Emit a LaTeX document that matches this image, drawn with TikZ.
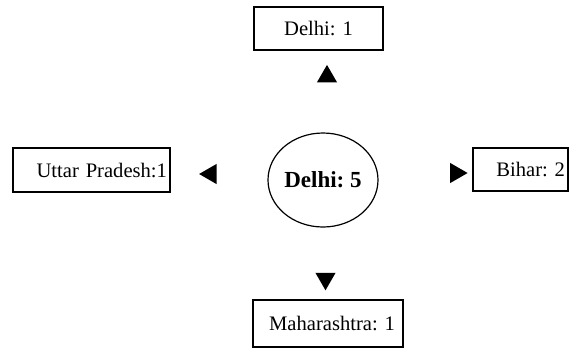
\documentclass[tikz,border=0pt]{standalone}
\usepackage{fontspec}
\setmainfont{Liberation Serif}
\usepackage{tikz}
\usetikzlibrary{shapes.geometric}
\frenchspacing

\tikzset{
	box/.style={draw,line width=0.6pt,inner xsep=1.5pt,inner ysep=0pt,
		font=\fontsize{10.3}{12}\selectfont},
	tip/.style={regular polygon,regular polygon sides=3,fill=black,
		inner sep=0pt,minimum size=11.6pt}
}

\begin{document}
\begin{tikzpicture}[x=0.5pt,y=-0.5pt]
	\useasboundingbox (0,0) rectangle (569,350);
	% state in the middle
	\node[ellipse,draw,line width=0.6pt,minimum width=55pt,minimum height=47pt,
		inner sep=0pt,font=\fontsize{11.5}{13}\bfseries] (D5) at (323,180) {Delhi: 5};
	% the four boxes
	\node[box,text width=61.5pt,align=center,minimum height=21.5pt] (D1) at (318.5,28.5) {Delhi: 1};
	\node[box,text width=75.5pt,align=right,minimum height=22pt] (UP) at (91.5,170) {Uttar Pradesh:1};
	\node[box,text width=44.5pt,align=right,minimum height=21.5pt] (BI) at (520.5,169.5) {Bihar: 2};
	\node[box,inner xsep=4pt,text width=67pt,align=right,minimum height=23.5pt] (MA) at (328,323.5) {Maharashtra: 1};
	% arrow tips
	\foreach \Nom/\X/\Y/\R in {
		Up/327/76.5/0, Left/210.7/174/90,
		Right/456/173/-90, Down/325.5/278.7/180%
	} {
		\node[tip,shape border rotate=\R] (T\Nom) at (\X,\Y) {};
	}
\end{tikzpicture}
\end{document}
